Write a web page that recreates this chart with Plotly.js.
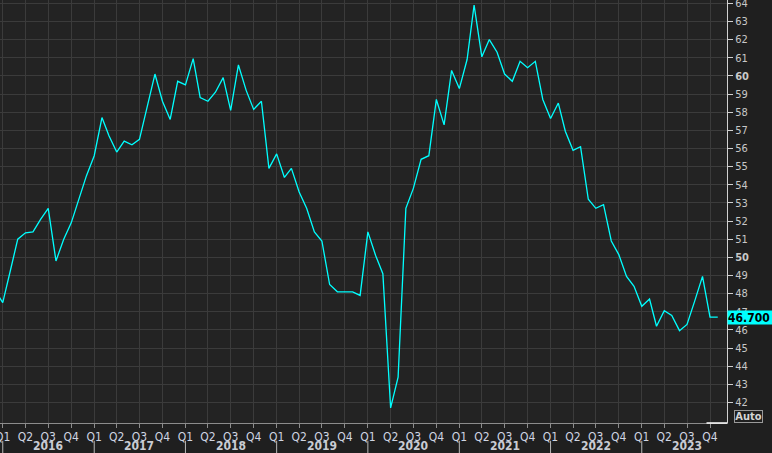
<!DOCTYPE html>
<html>
<head>
<meta charset="utf-8">
<script src="https://cdn.plot.ly/plotly-3.0.1.min.js"></script>
<style>
  html, body { margin: 0; padding: 0; background: #1f1f1f; }
  #chart { width: 772px; height: 453px; }
</style>
</head>
<body>
<div id="chart"></div>
<script>
// ---- data (monthly index, first value is Dec 2015) ----
const firstYear = 2015;
const firstMonth = 12;
const pmi = [
  48.2,
  47.5, 49.3, 51.0, 51.35, 51.4, 52.1, 52.7, 49.8, 51.0, 51.9, 53.2, 54.5,
  55.6, 57.7, 56.7, 55.8, 56.4, 56.2, 56.5, 58.3, 60.1, 58.6, 57.6, 59.7,
  59.5, 60.95, 58.8, 58.6, 59.1, 59.9, 58.1, 60.6, 59.2, 58.15, 58.6, 54.9,
  55.7, 54.4, 54.9, 53.6, 52.7, 51.4, 50.9, 48.5, 48.1, 48.1, 48.1, 47.9,
  51.4, 50.1, 49.1, 41.7, 43.4, 52.7, 53.8, 55.4, 55.6, 58.7, 57.3, 60.3,
  59.3, 60.9, 63.9, 61.05, 62.0, 61.3, 60.1, 59.7, 60.8, 60.45, 60.8, 58.7,
  57.65, 58.5, 56.95, 55.9, 56.1, 53.2, 52.7, 52.9, 50.9, 50.15, 48.95, 48.4,
  47.3, 47.7, 46.2, 47.06, 46.8, 45.96, 46.3, 47.6, 48.95, 46.7, 46.7
];
const lastLabel = '46.700';
const lastValue = 46.7;

// ---- axis labels ----
const years = [2016, 2017, 2018, 2019, 2020, 2021, 2022, 2023];
const quarterNames = ['Q1', 'Q2', 'Q3', 'Q4'];
const quarterStartMonths = ['01', '04', '07', '10'];
const yTicks = [42,43,44,45,46,47,48,49,50,51,52,53,54,55,56,57,58,59,60,61,62,63,64];
const yBoldTicks = [50, 60];

// ---- build dates ----
const dates = pmi.map((v, i) => {
  const m0 = (firstMonth - 1) + i;
  const y = firstYear + Math.floor(m0 / 12);
  const m = (m0 % 12) + 1;
  return y + '-' + String(m).padStart(2, '0') + '-01';
});

const xTickVals = [], xTickText = [];
years.forEach(y => quarterNames.forEach((q, k) => {
  xTickVals.push(y + '-' + quarterStartMonths[k] + '-01');
  xTickText.push(q);
}));

const yTickText = yTicks.map(v => yBoldTicks.includes(v) ? '<b>' + v + '</b>' : String(v));

const FONT = '"DejaVu Sans Condensed", "Liberation Sans", Tahoma, sans-serif';

const annotations = years.map(y => ({
  x: y + '-07-01', xref: 'x', y: -0.055, yref: 'paper',
  text: '<b>' + y + '</b>', showarrow: false, xanchor: 'center', yanchor: 'middle',
  font: { family: FONT, size: 12, color: '#c9ccd3' }
}));
annotations.push({
  x: 1, xref: 'paper', y: lastValue, yref: 'y', xanchor: 'left', yanchor: 'middle',
  text: '<b>' + lastLabel + '</b>', showarrow: false, bgcolor: '#00ffff',
  width: 45, height: 13, borderpad: 0, align: 'left',
  font: { family: FONT, size: 12, color: '#000000' }
});
annotations.push({
  x: 1, xref: 'paper', xshift: 7, y: 0, yref: 'paper', xanchor: 'left', yanchor: 'bottom',
  text: '<b>Auto</b>', showarrow: false, bordercolor: '#9a9a9a', borderwidth: 1,
  borderpad: 0, width: 27, height: 11,
  font: { family: FONT, size: 11, color: '#d4d4d4' }
});

const shapes = years.map(y => ({
  type: 'line', xref: 'x', yref: 'paper',
  x0: y + '-01-01', x1: y + '-01-01', y0: -0.042, y1: -0.08,
  line: { color: '#b8b8b8', width: 1 }
}));
shapes.push({
  type: 'line', xref: 'x', yref: 'paper', x0: '2023-09-17', x1: '2023-12-08', y0: 0, y1: 0,
  line: { color: '#ffffff', width: 1.5 }
});

const trace = {
  x: dates, y: pmi, type: 'scatter', mode: 'lines',
  line: { color: '#00ffff', width: 1.3 }, hoverinfo: 'skip'
};

const layout = {
  width: 772, height: 453,
  margin: { l: 0, r: 45, t: 0, b: 30 },
  paper_bgcolor: '#1f1f1f',
  plot_bgcolor: '#232323',
  showlegend: false,
  font: { family: FONT },
  xaxis: {
    type: 'date', range: ['2015-12-21', '2023-12-08'],
    tickmode: 'array', tickvals: xTickVals, ticktext: xTickText,
    ticks: 'outside', ticklen: 4, tickcolor: '#8c8c8c',
    ticklabeloverflow: 'allow', ticklabelstandoff: -1,
    showgrid: true, gridcolor: '#3b3b3b', gridwidth: 1,
    showline: true, linecolor: '#8c8c8c', linewidth: 1,
    zeroline: false, fixedrange: true,
    tickfont: { family: FONT, size: 12, color: '#cfd5e2' }
  },
  yaxis: {
    side: 'right', range: [40.87, 64.18],
    tickmode: 'array', tickvals: yTicks, ticktext: yTickText,
    ticks: 'outside', ticklen: 5, tickcolor: '#d0d0d0',
    ticklabeloverflow: 'allow',
    showgrid: true, gridcolor: '#3b3b3b', gridwidth: 1,
    showline: true, linecolor: '#d0d0d0', linewidth: 1,
    zeroline: false, fixedrange: true,
    tickfont: { family: FONT, size: 11, color: '#c8c8c8' }
  },
  annotations: annotations,
  shapes: shapes
};

Plotly.newPlot('chart', [trace], layout, { staticPlot: true, displayModeBar: false });
</script>
</body>
</html>
